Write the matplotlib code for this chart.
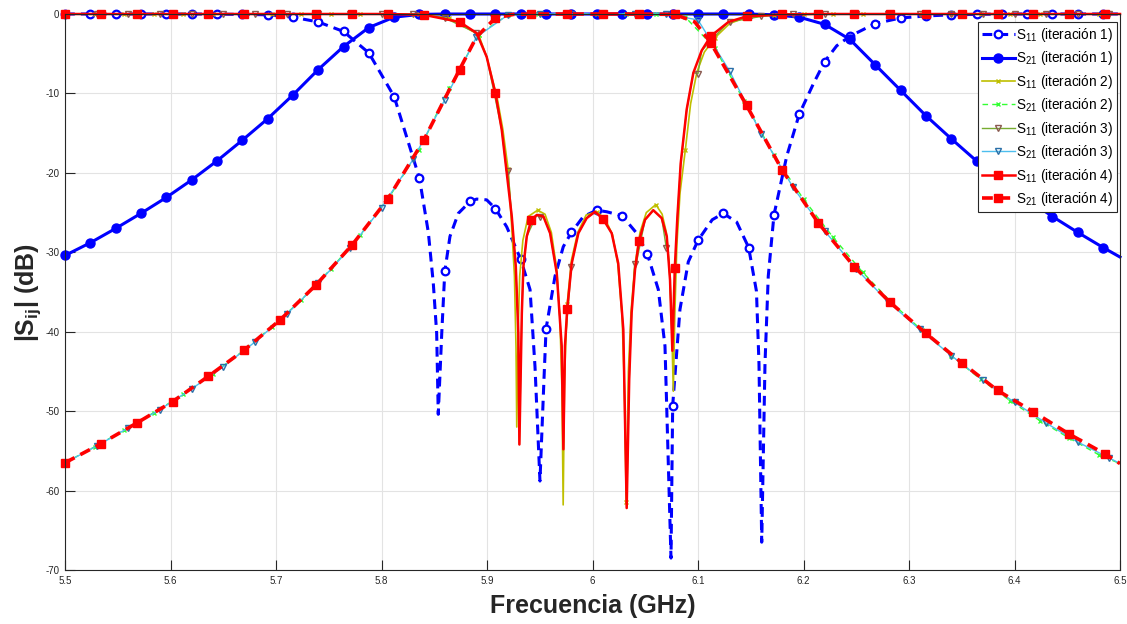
import numpy as np
import matplotlib.pyplot as plt
from matplotlib.ticker import FixedLocator

plt.rcParams['font.family'] = ['Liberation Sans', 'DejaVu Sans']
plt.rcParams['mathtext.fontset'] = 'custom'
plt.rcParams['mathtext.rm'] = 'Liberation Sans'
plt.rcParams['mathtext.bf'] = 'Liberation Sans:bold'
plt.rcParams['mathtext.default'] = 'regular'

# ---- iteracion 1 (marker grid + extra points along the curve) ----
f_it1 = [5.500, 5.524, 5.548, 5.572, 5.596, 5.620, 5.644, 5.668, 5.692, 5.716,
         5.740, 5.764, 5.788, 5.812, 5.836, 5.860, 5.884, 5.908, 5.932, 5.956,
         5.980, 6.004, 6.028, 6.052, 6.076, 6.100, 6.124, 6.148, 6.172, 6.196,
         6.220, 6.244, 6.268, 6.292, 6.316, 6.340, 6.364, 6.388, 6.412, 6.436,
         6.460, 6.484]
s21_it1 = [-30.4, -28.8, -27.0, -25.1, -23.1, -20.9, -18.5, -15.9, -13.2, -10.2,
           -7.0, -4.1, -1.7, -0.4, -0.05, 0, 0, 0, 0, 0,
           0, 0, 0, 0, 0, 0, 0, 0, -0.1, -0.4,
           -1.3, -3.2, -6.4, -9.6, -12.8, -15.7, -18.5, -20.9, -23.3, -25.5,
           -27.5, -29.4]
s11_it1 = [0, 0, 0, 0, 0, 0, -0.02, -0.05, -0.1, -0.4,
           -1.0, -2.2, -4.9, -10.4, -20.7, -32.4, -23.6, -24.5, -30.9, -39.6,
           -27.5, -24.7, -25.4, -30.2, -49.3, -28.5, -25.1, -29.4, -25.3, -12.6,
           -6.0, -2.8, -1.2, -0.5, -0.25, -0.1, -0.05, 0, 0, 0,
           0, 0]
fx_s21_it1 = [6.5]
dx_s21_it1 = [-30.6]
fx_s11_it1 = [5.8444, 5.8491, 5.8523, 5.8538, 5.8571, 5.8649, 5.8728, 5.8902, 5.8997,
              5.9187, 5.9408, 5.9455, 5.9502, 5.9540, 5.9645, 5.9723, 5.9913, 6.0135,
              6.0419, 6.0624, 6.0687, 6.0744, 6.0829, 6.0908, 6.1135, 6.1367, 6.1554,
              6.1578, 6.1604, 6.1635, 6.1666, 6.1841, 6.2093, 6.2315, 6.5]
dx_s11_it1 = [-27.5, -33.9, -40.2, -50.4, -40.2, -28.0, -25.1, -23.3, -23.4,
              -26.8, -34.7, -44.4, -58.8, -46.0, -33.0, -29.3, -25.5, -24.9,
              -27.6, -34.7, -41.8, -68.5, -37.2, -31.2, -25.9, -26.2, -34.9,
              -44.0, -66.5, -44.0, -33.0, -17.9, -8.8, -4.0, 0]

# ---- iteracion 2 ----
f_it2 = [5.500, 5.528, 5.556, 5.584, 5.612, 5.640, 5.668, 5.696, 5.724, 5.752,
         5.780, 5.808, 5.836, 5.864, 5.892, 5.920, 5.948, 5.976, 6.004, 6.032,
         6.060, 6.088, 6.116, 6.144, 6.172, 6.200, 6.228, 6.256, 6.284, 6.312,
         6.340, 6.368, 6.396, 6.424, 6.452, 6.480]
s21_it2 = [-56.5, -54.5, -52.4, -50.2, -47.9, -45.3, -42.5, -39.4, -36.0, -32.1,
           -27.8, -22.9, -17.1, -9.3, -2.6, -0.1, 0, 0, 0, 0,
           0, -0.4, -4.3, -11.0, -17.8, -23.3, -28.1, -32.5, -36.4, -39.8,
           -43.0, -46.0, -48.7, -51.2, -53.4, -55.5]
s11_it2 = [0, 0, 0, 0, 0, 0, 0, 0, 0, 0,
           0, 0, -0.05, -0.5, -2.6, -19.5, -24.7, -36.5, -24.9, -61.5,
           -24.0, -17.1, -3.0, -0.5, -0.1, 0, 0, 0, 0, 0,
           0, 0, 0, 0, 0, 0]
fx_s21_it2 = [6.5]
dx_s21_it2 = [-56.6]
fx_s11_it2 = [5.900, 5.910, 5.915, 5.9235, 5.926, 5.9275, 5.9282, 5.9295, 5.931, 5.934,
              5.939, 5.955, 5.961, 5.966, 5.969, 5.971, 5.9722, 5.9735, 5.980, 5.986,
              5.994, 6.012, 6.019, 6.024, 6.028, 6.030, 6.034, 6.0365, 6.040, 6.045,
              6.051, 6.066, 6.070, 6.073, 6.075, 6.0766, 6.078, 6.080, 6.083, 6.093,
              6.099, 6.106, 6.130, 6.5]
dx_s11_it2 = [-5.5, -10.8, -14.5, -27.0, -33.0, -42.0, -52.0, -40.0, -33.0, -28.5,
              -25.5, -25.2, -27.5, -32.0, -38.0, -47.0, -61.8, -46.0, -31.0, -27.5,
              -25.3, -25.8, -27.8, -31.5, -38.0, -46.0, -45.0, -37.5, -31.8, -27.5,
              -25.0, -25.2, -27.5, -32.0, -39.0, -47.5, -38.0, -29.0, -22.5, -11.3,
              -7.3, -4.8, -1.2, 0]

# ---- iteracion 3 ----
f_it3 = [5.50, 5.53, 5.56, 5.59, 5.62, 5.65, 5.68, 5.71, 5.74, 5.77,
         5.80, 5.83, 5.86, 5.89, 5.92, 5.95, 5.98, 6.01, 6.04, 6.07,
         6.10, 6.13, 6.16, 6.19, 6.22, 6.25, 6.28, 6.31, 6.34, 6.37,
         6.40, 6.43, 6.46, 6.49]
s21_it3 = [-56.5, -54.4, -52.1, -49.8, -47.2, -44.4, -41.3, -37.8, -33.9, -29.5,
           -24.4, -18.3, -10.8, -2.9, -0.1, 0, 0, 0, 0, 0,
           -0.75, -7.2, -15.1, -21.8, -27.3, -32.1, -36.2, -39.7, -43.0, -46.1,
           -48.9, -51.5, -53.9, -55.9]
s11_it3 = [0, 0, 0, 0, 0, 0, 0, 0, 0, 0,
           0, 0, -0.5, -2.4, -19.8, -25.6, -31.8, -25.8, -31.5, -29.5,
           -7.5, -1.0, -0.3, 0, 0, 0, 0, 0, 0, 0,
           0, 0, 0, 0]
fx_s21_it3 = [6.5]
dx_s21_it3 = [-56.6]

# ---- iteracion 4 ----
f_it4 = [5.500, 5.534, 5.568, 5.602, 5.636, 5.670, 5.704, 5.738, 5.772, 5.806,
         5.840, 5.874, 5.908, 5.942, 5.976, 6.010, 6.044, 6.078, 6.112, 6.146,
         6.180, 6.214, 6.248, 6.282, 6.316, 6.350, 6.384, 6.418, 6.452, 6.486]
s21_it4 = [-56.5, -54.1, -51.5, -48.8, -45.6, -42.3, -38.5, -34.1, -29.1, -23.3,
           -15.9, -7.0, -0.5, 0, 0, 0, 0, -0.05, -3.6, -11.5,
           -19.7, -26.3, -31.8, -36.3, -40.2, -43.9, -47.4, -50.1, -52.9, -55.4]
s11_it4 = [0, 0, 0, 0, 0, 0, 0, 0, 0, 0,
           -0.1, -1.0, -10.0, -25.9, -37.2, -25.8, -28.6, -32.0, -2.8, -0.3,
           -0.05, 0, 0, 0, 0, 0, 0, 0, 0, 0]
fx_s21_it4 = [5.890, 5.925, 6.097, 6.5]
dx_s21_it4 = [-2.9, -0.05, -1.0, -56.6]
fx_s11_it4 = [5.8902, 5.8997, 5.9140, 5.9187, 5.9235, 5.9273, 5.9297, 5.9307, 5.9330,
              5.9345, 5.9377, 5.9472, 5.9535, 5.9598, 5.9661, 5.9708, 5.9724, 5.9739,
              5.9803, 5.9866, 5.9945, 6.0024, 6.0182, 6.0244, 6.0292, 6.0324, 6.0348,
              6.0371, 6.0403, 6.0498, 6.0576, 6.0656, 6.0704, 6.0735, 6.0757, 6.0804,
              6.0836, 6.0893, 6.0956, 6.1035, 6.1289, 6.5]
dx_s11_it4 = [-2.4, -5.4, -14.6, -20.0, -25.5, -31.8, -40.2, -54.2, -37.7,
              -31.8, -28.0, -25.3, -25.5, -27.6, -32.6, -41.8, -54.8, -41.8,
              -31.4, -27.6, -25.7, -24.9, -27.6, -31.4, -39.7, -62.2, -46.0,
              -37.6, -32.2, -25.9, -24.7, -25.7, -28.0, -33.5, -42.4, -25.7,
              -18.8, -12.0, -7.4, -4.6, -1.0, 0]

xticks = [5.5, 5.6, 5.7, 5.8, 5.9, 6.0, 6.1, 6.2, 6.3, 6.4, 6.5]
xticklabels = ['5.5', '5.6', '5.7', '5.8', '5.9', '6', '6.1', '6.2', '6.3', '6.4', '6.5']
yticks = [-70, -60, -50, -40, -30, -20, -10, 0]


def build(fm, dm, fx=(), dx=()):
    f = np.array(list(fm) + list(fx))
    d = np.array(list(dm) + list(dx))
    mk = np.r_[np.ones(len(fm), bool), np.zeros(len(fx), bool)]
    o = np.argsort(f, kind='stable')
    return f[o], d[o], np.flatnonzero(mk[o]).tolist()


fig = plt.figure(figsize=(11.27, 6.24), dpi=100)
ax = fig.add_axes([65 / 1127, 1 - 570 / 624, 1055 / 1127, 556 / 624])

curves = [
    (f_it1, s11_it1, fx_s11_it1, dx_s11_it1,
     dict(color='#0000ff', lw=2.2, dashes=(3.2, 2.0), marker='o', ms=5.5, mfc='white',
          mew=1.6, label='S$_{11}$ (iteración 1)')),
    (f_it1, s21_it1, fx_s21_it1, dx_s21_it1,
     dict(color='#0000ff', lw=2.2, marker='o', ms=6.5, mfc='#0000ff',
          label='S$_{21}$ (iteración 1)')),
    (f_it2, s11_it2, fx_s11_it2, dx_s11_it2,
     dict(color='#bfbf00', lw=1.2, marker='x', ms=3.5, mew=1.0,
          label='S$_{11}$ (iteración 2)')),
    (f_it2, s21_it2, fx_s21_it2, dx_s21_it2,
     dict(color='#33ff33', lw=1.0, dashes=(4, 3), marker='x', ms=3.5, mew=1.0,
          label='S$_{21}$ (iteración 2)')),
    (f_it3, s11_it3, fx_s11_it4, dx_s11_it4,
     dict(color='#77ac30', lw=1.0, marker='v', ms=5, mfc='none', mec='#8a5a50', mew=1.0,
          label='S$_{11}$ (iteración 3)')),
    (f_it3, s21_it3, fx_s21_it3, dx_s21_it3,
     dict(color='#4dbeee', lw=1.0, marker='v', ms=5, mfc='none', mec='#2a6fa8', mew=1.0,
          label='S$_{21}$ (iteración 3)')),
    (f_it4, s11_it4, fx_s11_it4, dx_s11_it4,
     dict(color='#ff0000', lw=1.8, marker='s', ms=5.5, mfc='#ff0000',
          label='S$_{11}$ (iteración 4)')),
    (f_it4, s21_it4, fx_s21_it4, dx_s21_it4,
     dict(color='#ff0000', lw=2.6, dashes=(3.0, 1.8), marker='s', ms=6, mfc='#ff0000',
          label='S$_{21}$ (iteración 4)')),
]

for fm, dm, fx, dx, style in curves:
    f, d, idx = build(fm, dm, fx, dx)
    ax.plot(f, d, markevery=idx, clip_on=False, **style)

ax.set_xlim(5.5, 6.5)
ax.set_ylim(-70, 0)
ax.xaxis.set_major_locator(FixedLocator(xticks))
ax.set_xticklabels(xticklabels)
ax.yaxis.set_major_locator(FixedLocator(yticks))
ax.set_yticklabels([str(v) for v in yticks])
ax.grid(True, color='#e3e3e3', lw=0.8)
ax.set_axisbelow(True)
ax.tick_params(direction='in', length=7.5, width=0.8, labelsize=7,
               colors='#262626', top=False, right=False, pad=4)
for s in ax.spines.values():
    s.set_color('#262626')
    s.set_linewidth(0.8)

ax.set_xlabel('Frecuencia (GHz)', fontsize=18, fontweight='bold', color='#262626', labelpad=6)
ax.set_ylabel(r'|S$_{\mathbf{ij}}$| (dB)', fontsize=18, fontweight='bold', color='#262626')
ax.yaxis.set_label_coords(-0.021, 0.5)

leg = ax.legend(loc='upper right', bbox_to_anchor=(0.9975, 0.986), borderaxespad=0,
                fontsize=9.8, fancybox=False, framealpha=1, edgecolor='#262626',
                handlelength=2.4, handletextpad=0.1, labelspacing=0.4,
                borderpad=0.3)
leg.get_frame().set_linewidth(0.8)

fig.savefig('out.png', dpi=100)
